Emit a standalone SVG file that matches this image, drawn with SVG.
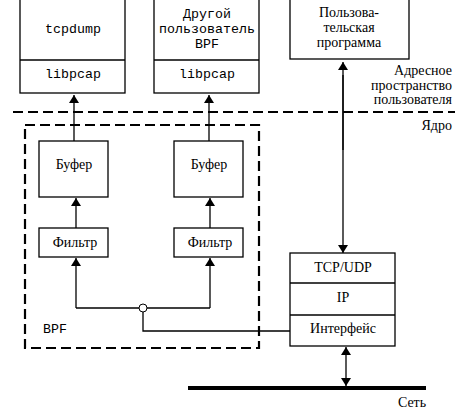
<svg xmlns="http://www.w3.org/2000/svg" width="468" height="420" viewBox="0 0 468 420">
<style>
.box{fill:#fff;stroke:#000;stroke-width:1.3}
.ln{fill:none;stroke:#000;stroke-width:1.3}
.dash{fill:none;stroke:#000;stroke-width:2.2;stroke-dasharray:10 5}
text{fill:#000}
.mono{font-family:'Liberation Mono','Courier New',monospace;font-size:13.3px;text-anchor:middle}
.ser{font-family:'Liberation Serif','Times New Roman',serif;font-size:14px;text-anchor:middle}
.serr{font-family:'Liberation Serif','Times New Roman',serif;font-size:14px;text-anchor:end}
</style>
<defs>
<marker id="ah" viewBox="0 0 8 10" refX="8" refY="5" markerWidth="8" markerHeight="10" markerUnits="userSpaceOnUse" orient="auto">
<path d="M0,0 L8,5 L0,10 Z" fill="#000"/>
</marker>
</defs>
<rect width="468" height="420" fill="#fff"/>

<g id="space-labels">
<line class="dash" x1="13" y1="112" x2="455" y2="112"/>
<text class="serr" x="452" y="75">Адресное</text>
<text class="serr" x="452" y="89.500">пространство</text>
<text class="serr" x="452" y="104">пользователя</text>
<text class="serr" x="452" y="130">Ядро</text>
</g>

<g id="bpf">
<rect x="25" y="125" width="234" height="223" class="dash"/>
<text class="mono" x="55" y="333">BPF</text>
</g>

<g id="tcpdump">
<rect class="box" x="20" y="-1" width="105" height="94"/>
<line class="ln" x1="20" y1="60" x2="125" y2="60"/>
<text class="mono" x="73" y="33">tcpdump</text>
<text class="mono" x="73" y="78">libpcap</text>
</g>

<g id="other-user">
<rect class="box" x="154" y="-1" width="105" height="94"/>
<line class="ln" x1="154" y1="60" x2="259" y2="60"/>
<text class="mono" x="207" y="18">Другой</text>
<text class="mono" x="207" y="33">пользователь</text>
<text class="mono" x="207" y="48">BPF</text>
<text class="mono" x="207" y="78">libpcap</text>
</g>

<g id="user-program">
<rect class="box" x="290" y="-1" width="119" height="60"/>
<text class="ser" x="349" y="17">Пользова-</text>
<text class="ser" x="349" y="32">тельская</text>
<text class="ser" x="349" y="47">программа</text>
</g>

<g id="buffer-left">
<rect class="box" x="39" y="141" width="69" height="56"/>
<text class="ser" x="74" y="169">Буфер</text>
</g>
<g id="buffer-right">
<rect class="box" x="174" y="141" width="69" height="56"/>
<text class="ser" x="209" y="169">Буфер</text>
</g>

<g id="filter-left">
<rect class="box" x="39" y="228" width="69" height="29"/>
<text class="ser" x="75" y="247">Фильтр</text>
</g>
<g id="filter-right">
<rect class="box" x="174" y="228" width="69" height="29"/>
<text class="ser" x="210" y="247">Фильтр</text>
</g>

<g id="stack">
<rect class="box" x="290" y="253" width="105" height="93"/>
<line class="ln" x1="290" y1="283" x2="395" y2="283"/>
<line class="ln" x1="290" y1="315" x2="395" y2="315"/>
<text class="ser" x="343" y="272">TCP/UDP</text>
<text class="ser" x="343" y="302">IP</text>
<text class="ser" x="343" y="333">Интерфейс</text>
</g>

<g id="network">
<line x1="188" y1="388" x2="426" y2="388" stroke="#000" stroke-width="4"/>
<text class="ser" x="412" y="407">Сеть</text>
</g>

<g id="connectors">
<line class="ln" x1="74" y1="141" x2="74" y2="95" marker-end="url(#ah)"/>
<line class="ln" x1="209" y1="141" x2="209" y2="95" marker-end="url(#ah)"/>
<line class="ln" x1="76" y1="228" x2="76" y2="198" marker-end="url(#ah)"/>
<line class="ln" x1="210" y1="228" x2="210" y2="198" marker-end="url(#ah)"/>
<polyline class="ln" points="76,308 76,258" marker-end="url(#ah)"/>
<polyline class="ln" points="210,308 210,258" marker-end="url(#ah)"/>
<line class="ln" x1="76" y1="308" x2="139" y2="308"/>
<line class="ln" x1="147" y1="308" x2="210" y2="308"/>
<circle cx="143" cy="308" r="4" fill="#fff" stroke="#000" stroke-width="1"/>
<polyline class="ln" points="143,312 143,331 290,331"/>
<line class="ln" x1="343" y1="75" x2="343" y2="253" marker-end="url(#ah)"/>
<line class="ln" x1="343" y1="150" x2="343" y2="62" marker-end="url(#ah)"/>
<line class="ln" x1="346" y1="367" x2="346" y2="347" marker-end="url(#ah)"/>
<line class="ln" x1="346" y1="367" x2="346" y2="386" marker-end="url(#ah)"/>
</g>
</svg>
